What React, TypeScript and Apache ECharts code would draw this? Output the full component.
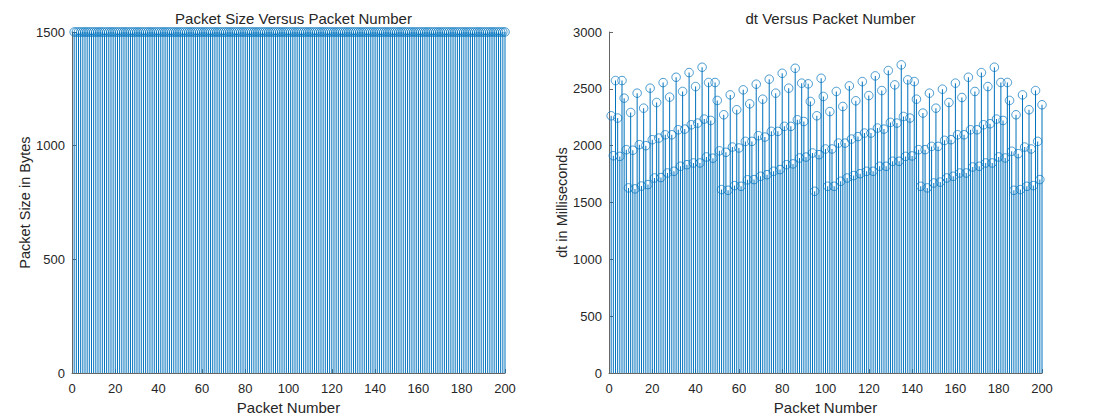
import React, { useEffect, useRef } from "react";
import * as echarts from "echarts";

// Packet size (bytes) for packets 1..200
const packetSizeBytes: number[] = [
  1500, 1500, 1500, 1500, 1500, 1500, 1500, 1500, 1500, 1500,
  1500, 1500, 1500, 1500, 1500, 1500, 1500, 1500, 1500, 1500,
  1500, 1500, 1500, 1500, 1500, 1500, 1500, 1500, 1500, 1500,
  1500, 1500, 1500, 1500, 1500, 1500, 1500, 1500, 1500, 1500,
  1500, 1500, 1500, 1500, 1500, 1500, 1500, 1500, 1500, 1500,
  1500, 1500, 1500, 1500, 1500, 1500, 1500, 1500, 1500, 1500,
  1500, 1500, 1500, 1500, 1500, 1500, 1500, 1500, 1500, 1500,
  1500, 1500, 1500, 1500, 1500, 1500, 1500, 1500, 1500, 1500,
  1500, 1500, 1500, 1500, 1500, 1500, 1500, 1500, 1500, 1500,
  1500, 1500, 1500, 1500, 1500, 1500, 1500, 1500, 1500, 1500,
  1500, 1500, 1500, 1500, 1500, 1500, 1500, 1500, 1500, 1500,
  1500, 1500, 1500, 1500, 1500, 1500, 1500, 1500, 1500, 1500,
  1500, 1500, 1500, 1500, 1500, 1500, 1500, 1500, 1500, 1500,
  1500, 1500, 1500, 1500, 1500, 1500, 1500, 1500, 1500, 1500,
  1500, 1500, 1500, 1500, 1500, 1500, 1500, 1500, 1500, 1500,
  1500, 1500, 1500, 1500, 1500, 1500, 1500, 1500, 1500, 1500,
  1500, 1500, 1500, 1500, 1500, 1500, 1500, 1500, 1500, 1500,
  1500, 1500, 1500, 1500, 1500, 1500, 1500, 1500, 1500, 1500,
  1500, 1500, 1500, 1500, 1500, 1500, 1500, 1500, 1500, 1500,
  1500, 1500, 1500, 1500, 1500, 1500, 1500, 1500, 1500, 1500,
];

// dt (ms) for packets 1..200
const dtMs: number[] = [
  2263, 1912, 2573, 2243, 1906, 2573, 2418, 1965, 1629, 2292,
  1960, 1620, 2462, 2009, 1645, 2330, 2000, 1658, 2506, 2053,
  1716, 2380, 2067, 1720, 2555, 2096, 1760, 2427, 2096, 1775,
  2602, 2140, 1819, 2477, 2146, 1833, 2643, 2184, 1848, 2520,
  2199, 1848, 2690, 2234, 1901, 2556, 2222, 1890, 2556, 2398,
  1955, 1614, 2272, 1942, 1608, 2447, 1988, 1649, 2316, 1980,
  1643, 2491, 2038, 1700, 2368, 2038, 1702, 2541, 2088, 1731,
  2409, 2076, 1745, 2585, 2126, 1775, 2462, 2126, 1790, 2637,
  2170, 1833, 2506, 2170, 1840, 2681, 2228, 1892, 2550, 2213,
  1900, 2544, 2389, 1936, 1599, 2263, 1921, 2593, 2433, 1971,
  1643, 2300, 1971, 1643, 2477, 2023, 1687, 2345, 2023, 1716,
  2526, 2058, 1737, 2395, 2080, 1754, 2564, 2111, 1775, 2441,
  2111, 1775, 2614, 2155, 1819, 2485, 2146, 1819, 2661, 2205,
  1863, 2535, 2199, 1863, 2711, 2257, 1906, 2579, 2243, 1910,
  2564, 2409, 1965, 1643, 2287, 1965, 1629, 2462, 1994, 1672,
  2330, 1994, 1680, 2497, 2047, 1716, 2380, 2053, 1731, 2550,
  2096, 1760, 2424, 2096, 1760, 2602, 2140, 1813, 2477, 2140,
  1819, 2643, 2184, 1848, 2520, 2193, 1848, 2690, 2234, 1901,
  2556, 2222, 1892, 2556, 2398, 1951, 1608, 2272, 1930, 1614,
  2447, 1988, 1643, 2316, 1971, 1649, 2485, 2038, 1702, 2360,
];

const leftTitle = "Packet Size Versus Packet Number";
const rightTitle = "dt Versus Packet Number";
const xName = "Packet Number";
const leftYName = "Packet Size in Bytes";
const rightYName = "dt in Milliseconds";

const STEM = "#0072BD";
const TEXT = "#262626";
const FONT = "Liberation Sans, Arial, sans-serif";

export default function App() {
  const ref = useRef<HTMLDivElement>(null);

  useEffect(() => {
    document.body.style.margin = "0";
    if (!ref.current) return;
    const chart = echarts.init(ref.current, null, { renderer: "svg" });

    const sizePairs = packetSizeBytes.map((v, i) => [i + 1, v]);
    const dtPairs = dtMs.map((v, i) => [i + 1, v]);
    const plain = (v: number) => String(v);

    const xAxisBase = (gridIndex: number) => ({
      type: "value",
      gridIndex,
      min: 0,
      max: 200,
      interval: 20,
      name: xName,
      nameLocation: "middle",
      nameGap: 26,
      nameTextStyle: { color: TEXT, fontSize: 15, fontFamily: FONT },
      axisLine: { show: true, onZero: false, lineStyle: { color: "#666", width: 1 } },
      axisTick: { show: true, inside: true, length: 4, lineStyle: { color: "#666" } },
      axisLabel: { color: TEXT, fontSize: 13, fontFamily: FONT, margin: 9, formatter: plain },
      splitLine: { show: false },
    });

    const yAxisBase = (gridIndex: number, max: number, name: string) => ({
      type: "value",
      gridIndex,
      min: 0,
      max,
      interval: 500,
      name,
      nameLocation: "middle",
      nameGap: 40,
      nameTextStyle: { color: TEXT, fontSize: 14.5, fontFamily: FONT },
      axisLine: { show: true, lineStyle: { color: "#666", width: 1 } },
      axisTick: { show: true, inside: true, length: 4, lineStyle: { color: "#666" } },
      axisLabel: { color: TEXT, fontSize: 13, fontFamily: FONT, margin: 7, formatter: plain },
      splitLine: { show: false },
    });

    const stemSeries = (idx: number, data: number[][]) => [
      {
        type: "bar",
        xAxisIndex: idx,
        yAxisIndex: idx,
        data,
        barWidth: 1,
        itemStyle: { color: STEM },
        silent: true,
      },
      {
        type: "scatter",
        xAxisIndex: idx,
        yAxisIndex: idx,
        data,
        symbol: "circle",
        symbolSize: 8.5,
        itemStyle: { color: "rgba(255,255,255,0)", borderColor: STEM, borderWidth: 0.9 },
        silent: true,
        z: 3,
      },
    ];

    const titleStyle = { color: TEXT, fontSize: 15, fontWeight: "normal", fontFamily: FONT };

    chart.setOption({
      animation: false,
      backgroundColor: "#ffffff",
      title: [
        { text: leftTitle, left: 288.5, top: 6, textAlign: "center", textStyle: titleStyle },
        { text: rightTitle, left: 825.5, top: 6, textAlign: "center", textStyle: titleStyle },
      ],
      grid: [
        { left: 72, top: 32, width: 433, height: 342 },
        { left: 609, top: 32, width: 433, height: 342 },
      ],
      xAxis: [xAxisBase(0), xAxisBase(1)],
      yAxis: [yAxisBase(0, 1500, leftYName), yAxisBase(1, 3000, rightYName)],
      series: [...stemSeries(0, sizePairs), ...stemSeries(1, dtPairs)],
    });

    return () => chart.dispose();
  }, []);

  return <div ref={ref} style={{ width: 1096, height: 420 }} />;
}
